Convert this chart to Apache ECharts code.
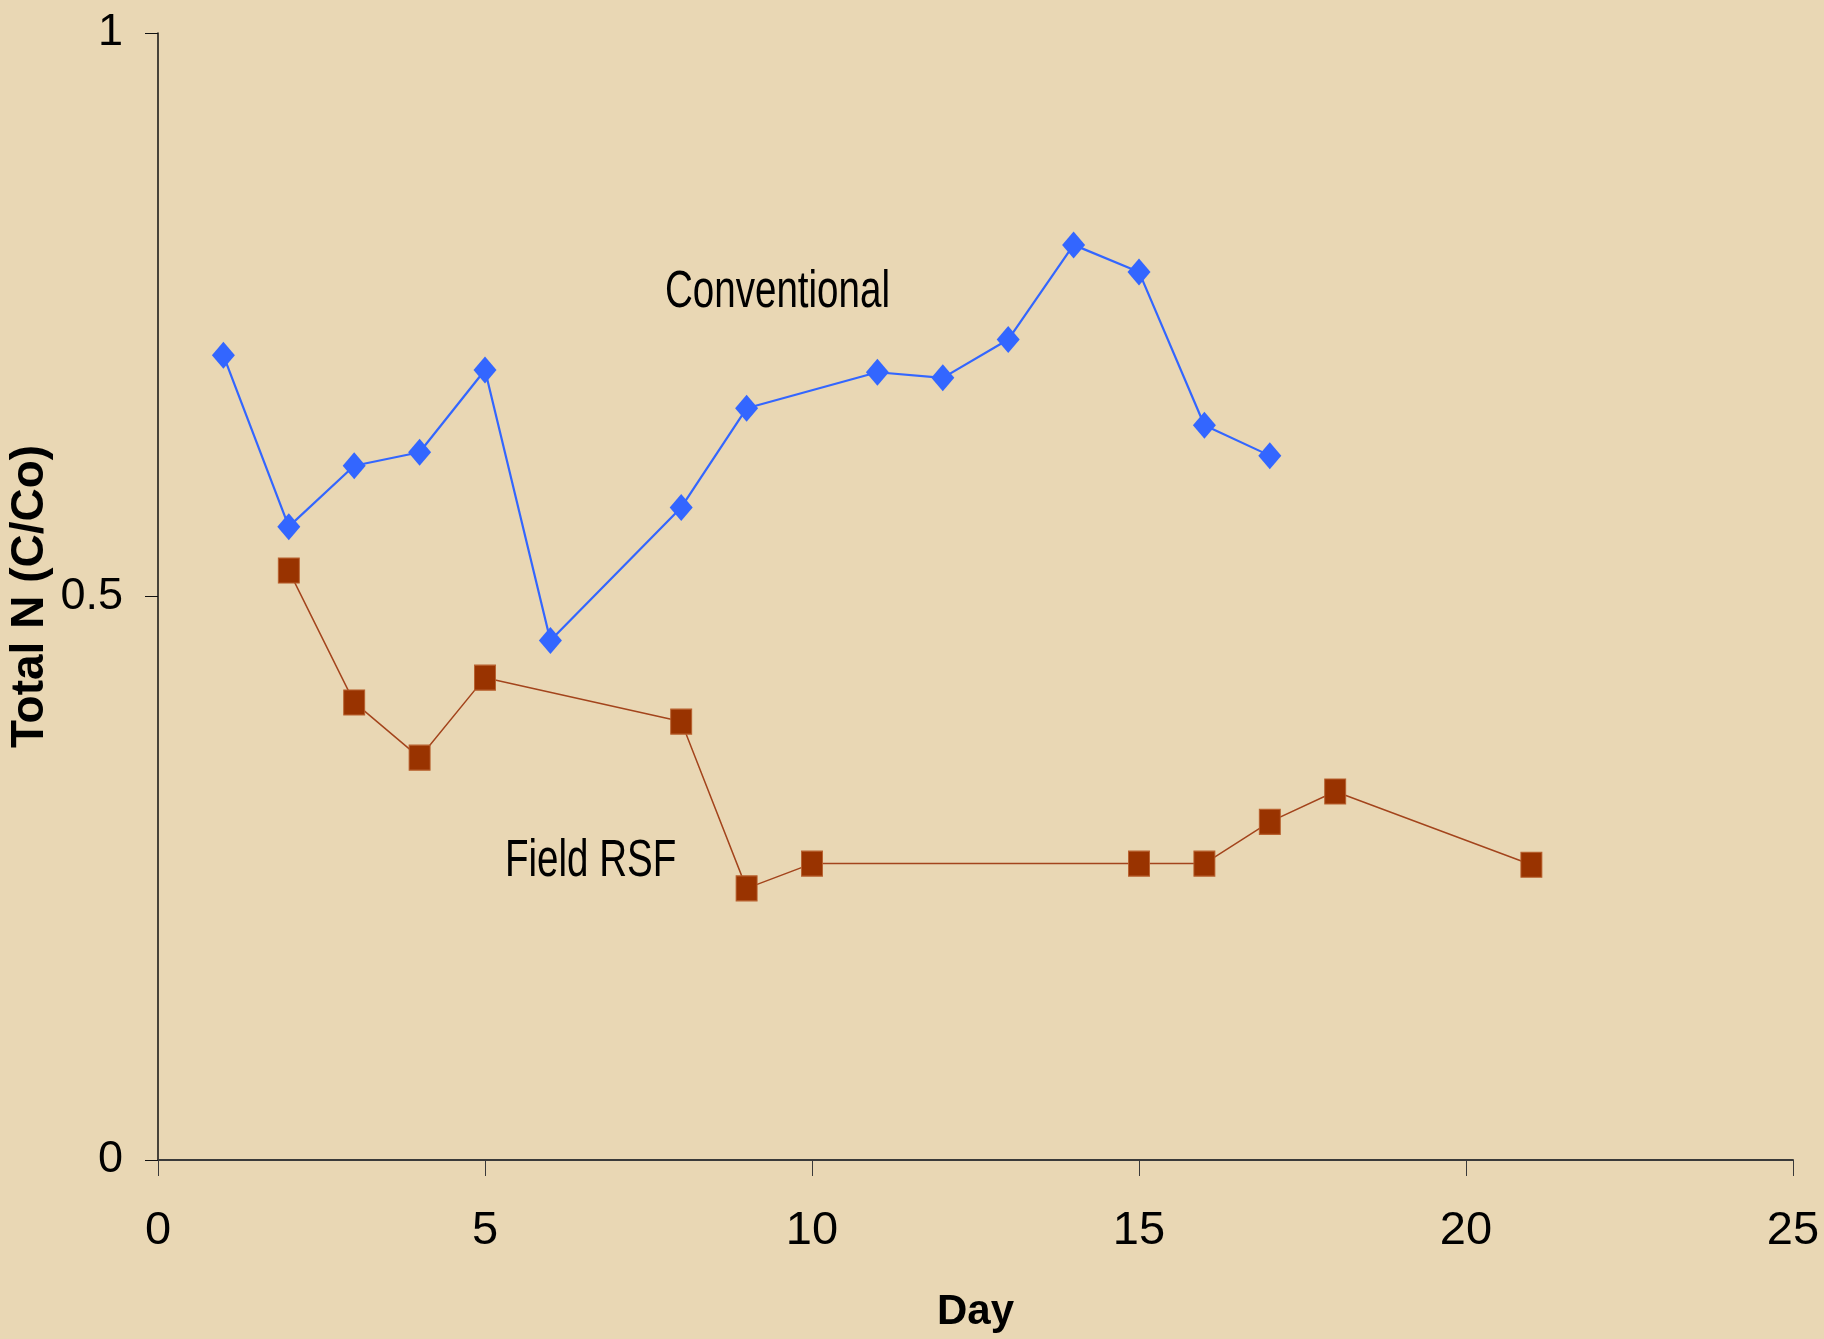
<!DOCTYPE html>
<html>
<head>
<meta charset="utf-8">
<title>Total N (C/Co)</title>
<script src="https://cdn.jsdelivr.net/npm/echarts@6/dist/echarts.min.js"></script>
<style>
  html, body { margin: 0; padding: 0; background: #E9D7B4; }
  #chart { width: 1824px; height: 1339px; }
</style>
</head>
<body>
<div id="chart"></div>
<script>
// Day numbers and relative total nitrogen (C/Co) for each filter
const convDays = [1, 2, 3, 4, 5, 6, 8, 9, 11, 12, 13, 14, 15, 16, 17];
const convValues = [0.714, 0.562, 0.616, 0.628, 0.701, 0.461, 0.579, 0.667, 0.699, 0.694, 0.728, 0.812, 0.788, 0.652, 0.625];

const rsfDays = [2, 3, 4, 5, 8, 9, 10, 15, 16, 17, 18, 21];
const rsfValues = [0.523, 0.406, 0.357, 0.428, 0.389, 0.241, 0.263, 0.263, 0.263, 0.300, 0.327, 0.262];

const seriesNames = ['Conventional', 'Field RSF'];

const sans = "'Liberation Sans', Arial, sans-serif";

const pair = (xs, ys) => xs.map((x, i) => [x, ys[i]]);

const chart = echarts.init(document.getElementById('chart'), null, { renderer: 'canvas' });

// condensed in-plot series captions
const caption = (text, x, y) => ({
  type: 'text',
  x: x, y: y,
  scaleX: 0.82, scaleY: 1.1,
  style: {
    text: text,
    font: '47px ' + sans,
    fill: '#000',
    align: 'left',
    verticalAlign: 'middle'
  }
});

chart.setOption({
  animation: false,
  backgroundColor: '#E9D7B4',
  grid: {
    left: 158, right: 31, top: 33, bottom: 179,
    containLabel: false,
    outerBoundsMode: 'none'
  },
  xAxis: {
    type: 'value',
    min: 0, max: 25, interval: 5,
    name: 'Day',
    nameLocation: 'middle',
    nameGap: 131,
    nameMoveOverlap: false,
    nameTextStyle: { fontFamily: sans, fontWeight: 'bold', fontSize: 42, color: '#000' },
    axisLine: { show: true, onZero: false, lineStyle: { color: '#3a3a3a', width: 2 } },
    axisTick: { show: true, inside: false, length: 16, lineStyle: { color: '#3a3a3a', width: 1 } },
    axisLabel: { margin: 48, fontFamily: sans, fontSize: 47, color: '#000' },
    splitLine: { show: false }
  },
  yAxis: {
    type: 'value',
    min: 0, max: 1, interval: 0.5,
    name: 'Total N (C/Co)',
    nameLocation: 'middle',
    nameGap: 105,
    nameMoveOverlap: false,
    nameTextStyle: { fontFamily: sans, fontWeight: 'bold', fontSize: 46, color: '#000' },
    axisLine: { show: true, lineStyle: { color: '#111', width: 1.5 } },
    axisTick: { show: true, inside: false, length: 13, lineStyle: { color: '#111', width: 1 } },
    axisLabel: {
      margin: 35, fontFamily: sans, fontSize: 45, color: '#000',
      formatter: v => String(v)
    },
    splitLine: { show: false }
  },
  series: [
    {
      name: seriesNames[0],
      type: 'line',
      data: pair(convDays, convValues),
      symbol: 'diamond',
      symbolSize: [23, 27],
      showAllSymbol: true,
      itemStyle: { color: '#3366FF' },
      lineStyle: { color: '#3366FF', width: 2.2 },
      z: 3
    },
    {
      name: seriesNames[1],
      type: 'line',
      data: pair(rsfDays, rsfValues),
      symbol: 'rect',
      symbolSize: [21, 25],
      showAllSymbol: true,
      itemStyle: { color: '#993300', borderColor: '#B8602E', borderWidth: 1 },
      lineStyle: { color: '#A3441C', width: 1.5 },
      z: 2
    }
  ],
  graphic: [
    caption(seriesNames[0], 665, 293),
    caption(seriesNames[1], 505, 862)
  ]
});
</script>
</body>
</html>
